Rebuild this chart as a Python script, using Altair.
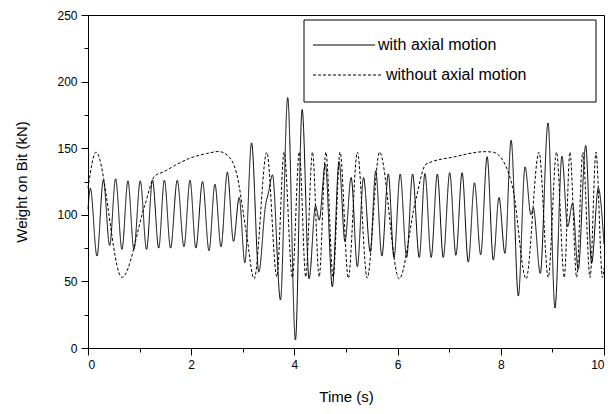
import altair as alt
import pandas as pd

# "with axial motion" (solid) - extrema
t_with = [0.0, 0.045, 0.174, 0.297, 0.42, 0.535, 0.658, 0.774, 0.89, 1.013,
          1.135, 1.25, 1.37, 1.48, 1.60, 1.73, 1.86, 1.977, 2.09, 2.22,
          2.345, 2.46, 2.578, 2.70, 2.82, 2.93, 3.04, 3.17, 3.31, 3.44,
          3.50, 3.575, 3.73, 3.87, 4.02, 4.15, 4.285, 4.41, 4.48, 4.60,
          4.735, 4.865, 4.98, 5.10, 5.22, 5.34, 5.47, 5.575, 5.695, 5.82,
          5.93, 6.05, 6.175, 6.29, 6.42, 6.53, 6.65, 6.77, 6.885, 7.01,
          7.13, 7.25, 7.37, 7.49, 7.61, 7.735, 7.855, 7.965, 8.08, 8.20,
          8.34, 8.47, 8.585, 8.63, 8.765, 8.915, 9.05, 9.185, 9.295, 9.39,
          9.50, 9.645, 9.76, 9.89, 10.0]
v_with = [104, 120, 69, 126, 77, 127, 74, 125.5, 74, 125.5,
          74, 126, 75, 126, 75, 126, 76, 126, 75, 125,
          73, 123, 76, 132, 80, 113, 64, 154, 57, 107,
          117, 130, 36, 188, 6, 179, 52, 107, 96, 138,
          46, 140, 80, 128, 61, 128, 72, 133, 69, 130.6,
          68, 130.6, 68, 130.6, 68, 131, 68, 130.6, 68, 131.6,
          69.6, 131.6, 64.5, 124, 70, 143.6, 66, 113, 71, 156,
          39, 136, 100, 105, 56, 169, 30, 144, 91, 108.6,
          59, 152, 63.6, 120, 78]

# "without axial motion" (dashed)
t_without = [0.0, 0.155, 0.658, 1.10, 1.29, 1.48, 1.68, 1.976, 2.30, 2.53,
             2.72, 2.88, 3.07, 3.22, 3.465, 3.66, 3.80, 3.96, 4.095, 4.22,
             4.35, 4.48, 4.61, 4.75, 4.885, 5.045, 5.22, 5.41, 5.65, 6.03,
             6.35, 6.55, 7.11, 7.69, 7.85, 8.08, 8.24, 8.49, 8.74, 8.92,
             9.08, 9.23, 9.34, 9.47, 9.59, 9.73, 9.845, 9.97, 10.0]
v_without = [120, 147, 53, 107, 129, 132.5, 137, 142.5, 146, 147.5,
             144, 131, 86, 52, 147, 53.5, 147, 53, 147, 53.5,
             147, 53.5, 147, 53.5, 147, 52.5, 147, 52.5, 147, 52,
             111, 138, 143.6, 147.4, 147, 138, 118.6, 52, 147, 53,
             147, 53, 147, 53, 147, 53, 147, 53, 60]

series_names = ["with axial motion", "without axial motion"]
x_ticks = list(range(0, 11))
y_ticks = list(range(0, 251, 25))

df = pd.concat([
    pd.DataFrame({"t": t_with, "v": v_with, "series": series_names[0]}),
    pd.DataFrame({"t": t_without, "v": v_without, "series": series_names[1]}),
])

FONT = "Liberation Sans"
DASH_SOLID = [1, 0]
DASH_DOTTED = [3, 2]

lines = alt.Chart(df).mark_line(
    color="black", strokeWidth=1, interpolate="monotone"
).encode(
    x=alt.X("t:Q", scale=alt.Scale(domain=[0, 10], nice=False),
            axis=alt.Axis(values=x_ticks, title="Time (s)", grid=False,
                          labelExpr="datum.value % 2 === 0 ? datum.label : ''",
                          tickSize={"condition": {"test": "datum.value % 2 === 0", "value": 7}, "value": 4},
                          labelPadding=4, titlePadding=19,
                          labelFont=FONT, labelFontSize=12, labelColor="black",
                          titleFont=FONT, titleFontSize=15, titleFontWeight="normal",
                          titleColor="black", domainColor="black", tickColor="black")),
    y=alt.Y("v:Q", scale=alt.Scale(domain=[0, 250], nice=False),
            axis=alt.Axis(values=y_ticks, title="Weight on Bit (kN)", grid=False,
                          labelExpr="datum.value % 50 === 0 ? datum.label : ''",
                          tickSize={"condition": {"test": "datum.value % 50 === 0", "value": 7}, "value": 4},
                          labelPadding=4, titlePadding=27,
                          labelFont=FONT, labelFontSize=12, labelColor="black",
                          titleFont=FONT, titleFontSize=15, titleFontWeight="normal",
                          titleColor="black", domainColor="black", tickColor="black")),
    strokeDash=alt.StrokeDash(
        "series:N",
        scale=alt.Scale(domain=series_names, range=[DASH_SOLID, DASH_DOTTED]),
        legend=None,
    ),
)

# legend (decoration)
legend_box = alt.Chart().mark_rect(
    fill="white", stroke="black", strokeWidth=1
).encode(x=alt.value(216), x2=alt.value(508), y=alt.value(5), y2=alt.value(87))

leg_line1 = alt.Chart().mark_rule(color="black", strokeWidth=1).encode(
    x=alt.value(225), x2=alt.value(287), y=alt.value(30))
leg_line2 = alt.Chart().mark_rule(color="black", strokeWidth=1, strokeDash=DASH_DOTTED).encode(
    x=alt.value(225), x2=alt.value(295), y=alt.value(60))
leg_text1 = alt.Chart().mark_text(
    text=series_names[0], align="left", baseline="middle", font=FONT, fontSize=16, color="black"
).encode(x=alt.value(290), y=alt.value(30))
leg_text2 = alt.Chart().mark_text(
    text=series_names[1], align="left", baseline="middle", font=FONT, fontSize=16, color="black"
).encode(x=alt.value(298), y=alt.value(60))

chart = alt.layer(
    lines, legend_box, leg_line1, leg_line2, leg_text1, leg_text2
).properties(
    width=516, height=333,
    autosize=alt.AutoSizeParams(type="none"),
    padding={"left": 88, "top": 15, "right": 11, "bottom": 66},
).configure_view(
    stroke="black", strokeWidth=1
)

chart.save("out.html", embed_options={"renderer": "svg", "actions": False})
